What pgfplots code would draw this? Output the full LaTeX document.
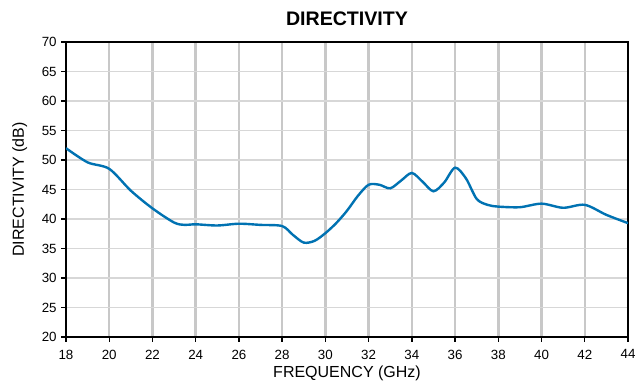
\documentclass[border=0pt]{standalone}
\usepackage{fontspec}
\setmainfont{Liberation Sans}
\usepackage{pgfplots}
\pgfplotsset{compat=1.18}
\usetikzlibrary{calc}
\definecolor{curve}{RGB}{0,114,178}
\definecolor{vgrid}{RGB}{200,200,200}
\definecolor{hgrid}{RGB}{215,215,215}
\begin{document}
\begin{tikzpicture}
\begin{axis}[
  scale only axis,
  width=421.5pt, height=221.25pt,
  xmin=18, xmax=44, ymin=20, ymax=70,
  xtick={18,20,...,44}, ytick={20,25,...,70},
  grid=major,
  x grid style={vgrid, line width=1.8pt},
  y grid style={hgrid, line width=1.1pt},
  axis line style={black, line width=1.6pt},
  tick style={black, line width=1pt},
  tick align=outside,
  major tick length=3.5pt,
  xtick pos=bottom, ytick pos=left,
  /pgf/number format/assume math mode=true,
  tick label style={font=\fontsize{10}{12}\selectfont},
  xticklabel style={yshift=-2.5pt},
  yticklabel style={xshift=0pt},
  xlabel={FREQUENCY (GHz)},
  ylabel={DIRECTIVITY (dB)},
  label style={font=\fontsize{12}{14}\selectfont},
  xlabel style={yshift=2pt},
  ylabel style={yshift=4pt},
  title={\textbf{DIRECTIVITY}},
  title style={font=\fontsize{14.7}{16}\selectfont, yshift=3pt},
]
\addplot[curve, line width=1.8pt, smooth, tension=0.5] coordinates {
(18,52.0) (19,49.6) (20,48.5) (21,44.8) (22,41.8) (23,39.4) (23.5,39.0) (24,39.1) (25,38.9) (26,39.2) (27,39.0) (28,38.8)
(28.5,37.3) (29,36.0) (29.5,36.3) (30,37.6) (30.5,39.3) (31,41.4) (31.5,43.9) (32,45.8) (32.5,45.8) (33,45.2) (33.5,46.5)
(34,47.8) (34.5,46.3) (35,44.7) (35.5,46.2) (36,48.7) (36.5,46.9) (37,43.4) (37.5,42.4) (38,42.1) (39,42.0) (40,42.6)
(41,41.9) (42,42.4) (43,40.7) (44,39.3)
};
\end{axis}
\pgfresetboundingbox
\path ($(current axis.south west)+(-49.5pt,-34.5pt)$) rectangle ($(current axis.north east)+(12pt,31.5pt)$);
\end{tikzpicture}
\end{document}
